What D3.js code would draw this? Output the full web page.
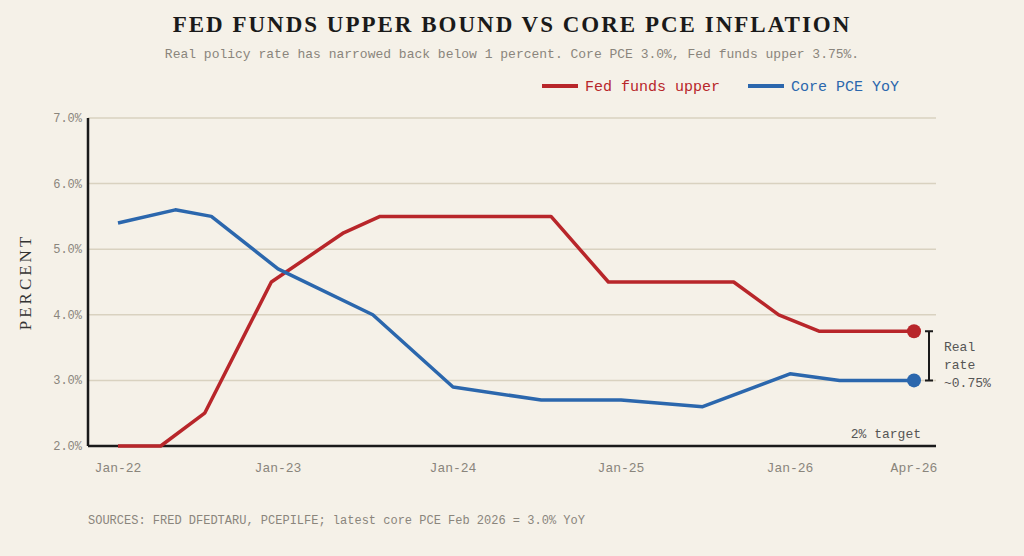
<!DOCTYPE html>
<html>
<head>
<meta charset="utf-8">
<script src="https://cdn.jsdelivr.net/npm/d3@7"></script>
<style>
  body { margin: 0; background: #f5f1e8; }
  text { font-family: "Liberation Mono", "DejaVu Sans Mono", monospace; }
</style>
</head>
<body>
<svg width="1024" height="556"></svg>
<script>
// months since Jan-22
const tickMonths = [0, 12, 24, 36, 48, 51]
const tickLabels = ["Jan-22", "Jan-23", "Jan-24", "Jan-25", "Jan-26", "Apr-26"]
const fedMonths = [0, 3.2, 6.5, 11.5, 16.5, 19, 31, 35.1, 44, 47.2, 48.7, 51]
const fedValues = [2.0, 2.0, 2.5, 4.5, 5.25, 5.5, 5.5, 4.5, 4.5, 4.0, 3.75, 3.75]
const pceMonths = [0, 4.3, 7, 12, 18.5, 24, 30.3, 36, 41.8, 48, 49.2, 51]
const pceValues = [5.4, 5.6, 5.5, 4.7, 4.0, 2.9, 2.7, 2.7, 2.6, 3.1, 3.0, 3.0]
const yTicks = [2, 3, 4, 5, 6, 7]

const red = "#b8262a", blue = "#2b67ad"
const svg = d3.select("svg")
const pLeft = 88, pRight = 936, pTop = 118, pBottom = 446

const x = d3.scaleLinear().domain(tickMonths).range([118, 278, 453, 621, 790, 914])
const y = d3.scaleLinear().domain([2, 7]).range([pBottom, pTop]).clamp(true)

svg.append("text").attr("x", 512).attr("y", 32).attr("text-anchor", "middle")
  .style("font-family", "'Liberation Serif', serif").style("font-weight", "bold")
  .style("font-size", "23px").style("letter-spacing", "2px").attr("fill", "#1a1a1a")
  .text("FED FUNDS UPPER BOUND VS CORE PCE INFLATION")
svg.append("text").attr("x", 512).attr("y", 58).attr("text-anchor", "middle")
  .style("font-size", "13px").attr("fill", "#8a857c")
  .text("Real policy rate has narrowed back below 1 percent. Core PCE 3.0%, Fed funds upper 3.75%.")

// legend
const leg = [{ label: "Fed funds upper", c: red, x: 542 }, { label: "Core PCE YoY", c: blue, x: 748 }]
leg.forEach(d => {
  svg.append("line").attr("x1", d.x).attr("x2", d.x + 36).attr("y1", 86).attr("y2", 86)
    .attr("stroke", d.c).attr("stroke-width", 4)
  svg.append("text").attr("x", d.x + 43).attr("y", 91).style("font-size", "15px")
    .attr("fill", d.c).text(d.label)
})

// grid
svg.append("g").selectAll("line").data(yTicks.slice(1)).join("line")
  .attr("x1", pLeft).attr("x2", pRight).attr("y1", d => y(d)).attr("y2", d => y(d))
  .attr("stroke", "#d9d2c0").attr("stroke-width", 1.5)

svg.append("g").selectAll("text").data(yTicks).join("text")
  .attr("x", 82).attr("y", d => y(d) + 4).attr("text-anchor", "end")
  .style("font-size", "12px").attr("fill", "#8a857c").text(d => d.toFixed(1) + "%")

svg.append("g").selectAll("text").data(tickMonths).join("text")
  .attr("x", d => x(d)).attr("y", 472).attr("text-anchor", "middle")
  .style("font-size", "13px").attr("fill", "#8a857c").text((d, i) => tickLabels[i])

svg.append("line").attr("x1", pLeft).attr("x2", pLeft).attr("y1", pTop).attr("y2", pBottom)
  .attr("stroke", "#1a1a1a").attr("stroke-width", 2.5)
svg.append("line").attr("x1", pLeft).attr("x2", pRight).attr("y1", pBottom).attr("y2", pBottom)
  .attr("stroke", "#1a1a1a").attr("stroke-width", 2.5)

svg.append("text").attr("transform", "translate(31,282) rotate(-90)").attr("text-anchor", "middle")
  .style("font-family", "'Liberation Serif', serif").style("font-size", "17px")
  .style("letter-spacing", "3px").attr("fill", "#333").text("PERCENT")

const line = d3.line().x(d => x(d[0])).y(d => y(d[1]))
const series = [
  { m: fedMonths, v: fedValues, c: red },
  { m: pceMonths, v: pceValues, c: blue }
]
series.forEach(s => {
  const pts = s.m.map((m, i) => [m, s.v[i]])
  svg.append("path").attr("d", line(pts)).attr("fill", "none")
    .attr("stroke", s.c).attr("stroke-width", 3.5).attr("stroke-linejoin", "round")
  const last = pts[pts.length - 1]
  svg.append("circle").attr("cx", x(last[0])).attr("cy", y(last[1])).attr("r", 7).attr("fill", s.c)
})

// real rate bracket
const bx = 929, y1 = y(fedValues[fedValues.length - 1]), y2 = y(pceValues[pceValues.length - 1])
svg.append("path").attr("d", `M${bx - 4},${y1}H${bx + 4}M${bx},${y1}V${y2}M${bx - 4},${y2}H${bx + 4}`)
  .attr("stroke", "#1a1a1a").attr("stroke-width", 2).attr("fill", "none")
;["Real", "rate", "~0.75%"].forEach((t, i) => {
  svg.append("text").attr("x", 944).attr("y", 351 + i * 18).style("font-size", "13px")
    .attr("fill", "#555").text(t)
})

svg.append("text").attr("x", 921).attr("y", 438).attr("text-anchor", "end")
  .style("font-size", "13px").attr("fill", "#555").text("2% target")

svg.append("text").attr("x", 88).attr("y", 524).style("font-size", "12px")
  .attr("fill", "#8a857c").text("SOURCES: FRED DFEDTARU, PCEPILFE; latest core PCE Feb 2026 = 3.0% YoY")
</script>
</body>
</html>
